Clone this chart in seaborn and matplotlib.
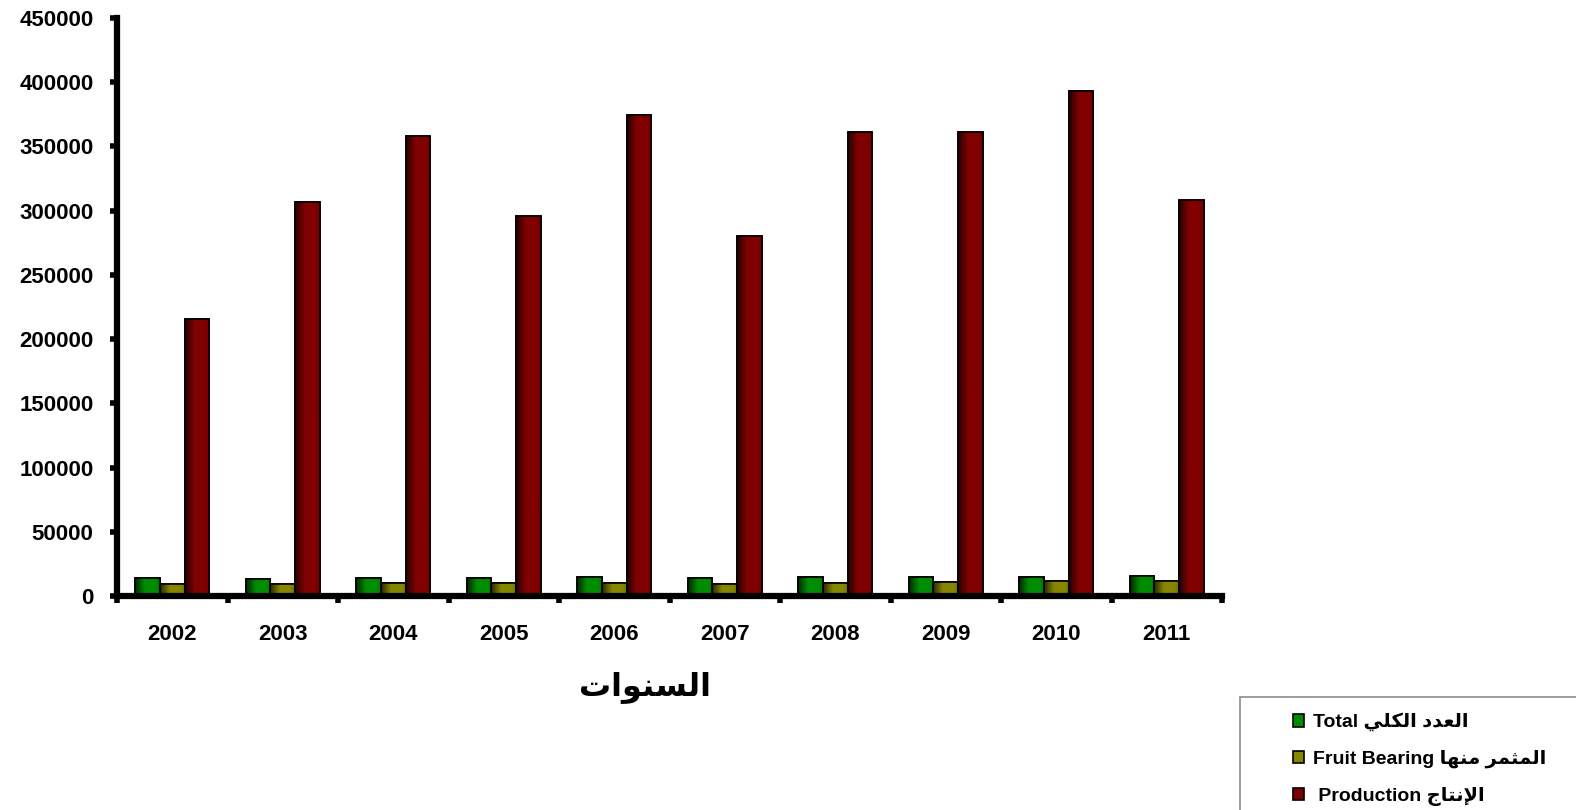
import matplotlib
matplotlib.use("Agg")
import matplotlib.pyplot as plt
import matplotlib.colors as mcolors
from matplotlib.patches import Patch, Rectangle
import numpy as np
import pandas as pd
import seaborn as sns

# ─── Data ─────────────────────────────────────────────────────────────────────
years = ["2002", "2003", "2004", "2005", "2006", "2007", "2008", "2009", "2010", "2011"]
total = [14300, 13500, 14000, 14000, 14500, 14000, 14500, 14600, 15000, 15400]
fruit_bearing = [9600, 9300, 9800, 10300, 10500, 9500, 10500, 10800, 11300, 11700]
production = [216000, 307000, 358500, 296000, 374500, 280500, 361000, 361500, 393000, 308000]

series_keys = ["total", "fruit", "production"]
series_colors = {"total": "#008C00", "fruit": "#868600", "production": "#800000"}
yticks = list(range(0, 450001, 50000))

# ─── Minimal Arabic shaping (matplotlib has no bidi / contextual shaping) ─────
FORMS = {
    "ا": ("\uFE8D", "\uFE8E", None, None),
    "إ": ("\uFE87", "\uFE88", None, None),
    "ل": ("\uFEDD", "\uFEDE", "\uFEDF", "\uFEE0"),
    "س": ("\uFEB1", "\uFEB2", "\uFEB3", "\uFEB4"),
    "ن": ("\uFEE5", "\uFEE6", "\uFEE7", "\uFEE8"),
    "و": ("\uFEED", "\uFEEE", None, None),
    "ت": ("\uFE95", "\uFE96", "\uFE97", "\uFE98"),
    "ع": ("\uFEC9", "\uFECA", "\uFECB", "\uFECC"),
    "د": ("\uFEA9", "\uFEAA", None, None),
    "ك": ("\uFED9", "\uFEDA", "\uFEDB", "\uFEDC"),
    "ي": ("\uFEF1", "\uFEF2", "\uFEF3", "\uFEF4"),
    "م": ("\uFEE1", "\uFEE2", "\uFEE3", "\uFEE4"),
    "ث": ("\uFE99", "\uFE9A", "\uFE9B", "\uFE9C"),
    "ر": ("\uFEAD", "\uFEAE", None, None),
    "ه": ("\uFEE9", "\uFEEA", "\uFEEB", "\uFEEC"),
    "ج": ("\uFE9D", "\uFE9E", "\uFE9F", "\uFEA0"),
}
LAM_ALEF = {"ا": ("\uFEFB", "\uFEFC"), "إ": ("\uFEF9", "\uFEFA")}


def ar(text):
    """Shape Arabic text and return it in visual (left-to-right) order."""
    def dual(c):
        return c in FORMS and FORMS[c][2] is not None

    out = []
    i = 0
    while i < len(text):
        c = text[i]
        if c not in FORMS:
            out.append(c)
            i += 1
            continue
        jp = i > 0 and dual(text[i - 1])
        if c == "ل" and i + 1 < len(text) and text[i + 1] in LAM_ALEF:
            out.append(LAM_ALEF[text[i + 1]][1 if jp else 0])
            i += 2
            continue
        jn = dual(c) and i + 1 < len(text) and text[i + 1] in FORMS
        iso, fin, ini, med = FORMS[c]
        out.append(med if jp and jn else fin if jp else ini if jn else iso)
        i += 1
    return "".join(out)[::-1]


legend_labels = [
    "Total " + ar("العدد الكلي"),
    "Fruit Bearing " + ar("المثمر منها"),
    " Production " + ar("الإنتاج"),
]
x_title = ar("السنوات")

# ─── Plot ─────────────────────────────────────────────────────────────────────
df = pd.DataFrame({
    "year": years * 3,
    "series": ["total"] * 10 + ["fruit"] * 10 + ["production"] * 10,
    "value": total + fruit_bearing + production,
})

sns.set_theme(style="white")
plt.rcParams["font.family"] = ["Liberation Sans", "DejaVu Sans"]
plt.rcParams.update({"text.color": "black", "axes.labelcolor": "black",
                     "xtick.color": "black", "ytick.color": "black"})

fig = plt.figure(figsize=(15.76, 8.10), dpi=100)
ax = fig.add_axes([117 / 1576, 1 - 596 / 810, (1222 - 117) / 1576, (596 - 18) / 810])

sns.barplot(data=df, x="year", y="value", hue="series", hue_order=series_keys,
            palette=series_colors, saturation=1, width=0.67, edgecolor="black",
            linewidth=1.2, legend=False, ax=ax)

# gradient fill on each bar, like the original "3D" Excel look
t = np.linspace(0, 1, 64)
shade = np.interp(t, [0, 0.4, 0.85, 1], [0.3, 1.0, 1.0, 0.85])
for bar in list(ax.patches):
    x, y, w, h = bar.get_x(), bar.get_y(), bar.get_width(), bar.get_height()
    base = np.array(mcolors.to_rgb(bar.get_facecolor()))
    img = np.clip(base[None, :] * shade[:, None], 0, 1)[None, :, :]
    im = ax.imshow(img, extent=[x, x + w, y, y + h], aspect="auto",
                   interpolation="bilinear", zorder=bar.get_zorder() + 0.1)
    im.set_clip_path(bar)
    ax.add_patch(Rectangle((x, y), w, h, fill=False, edgecolor="black",
                           linewidth=1.2, zorder=bar.get_zorder() + 0.2))

ax.set_xlim(-0.5, 9.5)
ax.set_ylim(0, 450000)
ax.set_yticks(yticks)
ax.set_yticklabels([str(v) for v in yticks], fontsize=16, fontweight="bold")
ax.set_xticks(range(len(years)))
ax.set_xticklabels(years, fontsize=16, fontweight="bold")
ax.set_xticks(np.arange(-0.5, 10, 1), minor=True)
ax.tick_params(axis="x", which="major", length=0, pad=20, bottom=True)
ax.tick_params(axis="x", which="minor", length=5, width=4, color="black",
               direction="out", bottom=True)
ax.tick_params(axis="y", length=5, width=4, color="black", direction="out",
               pad=12, left=True)
ax.set_ylabel("")
ax.set_xlabel(x_title, fontsize=23, fontweight="bold")
ax.xaxis.set_label_coords((645 - 117) / 1105, -0.13)

for side in ["top", "right"]:
    ax.spines[side].set_visible(False)
for side in ["left", "bottom"]:
    ax.spines[side].set_linewidth(4.5)
    ax.spines[side].set_color("black")
ax.grid(False)

# legend box (bottom right, partly off the figure like the original)
fig.patches.append(Rectangle((1240 / 1576, -0.01), 0.3, 1 - 697 / 810 + 0.01,
                             transform=fig.transFigure, fill=False,
                             edgecolor="#8c8c8c", linewidth=1.2))
handles = [Patch(facecolor=series_colors[k], edgecolor="black", linewidth=1.2)
           for k in series_keys]
leg = fig.legend(handles, legend_labels, loc="upper left",
                 bbox_to_anchor=(1285 / 1576, 1 - 705 / 810), frameon=False,
                 prop={"size": 14, "weight": "bold"}, handlelength=0.6,
                 handleheight=0.6, handletextpad=0.45, labelspacing=0.95,
                 borderaxespad=0)

fig.savefig("out.png", dpi=100)
